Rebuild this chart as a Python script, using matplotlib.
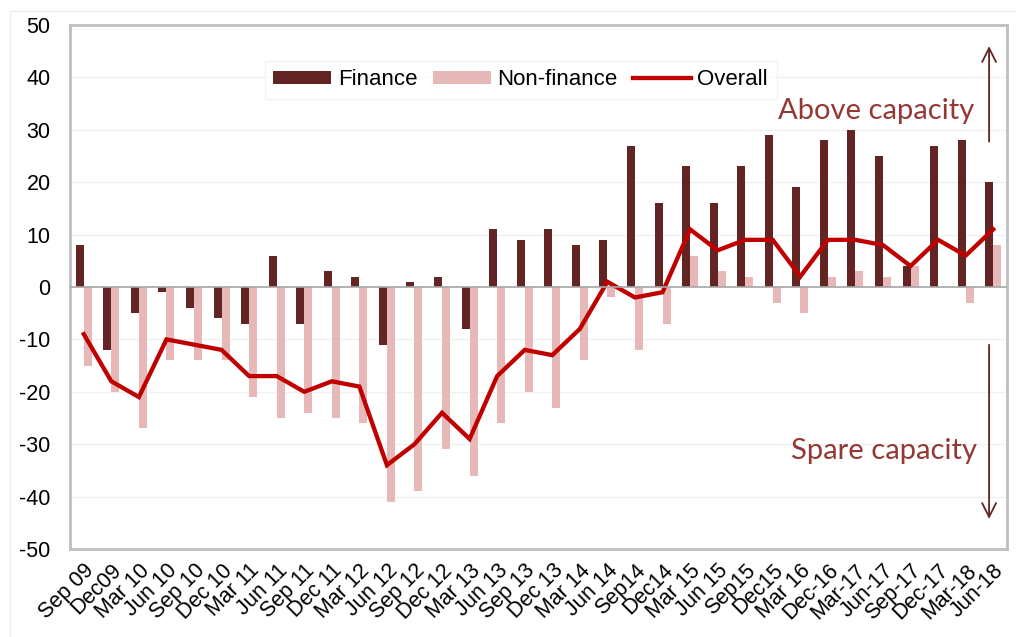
import matplotlib
matplotlib.use("Agg")
import matplotlib.pyplot as plt
import numpy as np
from matplotlib.patches import Rectangle

quarters = ["Sep 09", "Dec09", "Mar 10", "Jun 10", "Sep 10", "Dec 10", "Mar 11", "Jun 11",
            "Sep 11", "Dec 11", "Mar 12", "Jun 12", "Sep 12", "Dec 12", "Mar 13", "Jun 13",
            "Sep 13", "Dec 13", "Mar 14", "Jun 14", "Sep14", "Dec14", "Mar 15", "Jun 15",
            "Sep15", "Dec15", "Mar 16", "Dec-16", "Mar-17", "Jun-17", "Sep-17", "Dec-17",
            "Mar-18", "Jun-18"]
finance = [8, -12, -5, -1, -4, -6, -7, 6, -7, 3, 2, -11, 1, 2, -8, 11,
           9, 11, 8, 9, 27, 16, 23, 16, 23, 29, 19, 28, 30, 25, 4, 27, 28, 20]
non_finance = [-15, -20, -27, -14, -14, -14, -21, -25, -24, -25, -26, -41, -39, -31, -36, -26,
               -20, -23, -14, -2, -12, -7, 6, 3, 2, -3, -5, 2, 3, 2, 4, 0, -3, 8]
overall = [-9, -18, -21, -10, -11, -12, -17, -17, -20, -18, -19, -34, -30, -24, -29, -17,
           -12, -13, -8, 1, -2, -1, 11, 7, 9, 9, 2, 9, 9, 8, 4, 9, 6, 11]
yticks = list(range(-50, 51, 10))

plt.rcParams['font.family'] = ['Liberation Sans', 'DejaVu Sans']

W, H = 1016, 637
fig = plt.figure(figsize=(W / 100, H / 100), dpi=100)
L, R, T, B = 70, 1007, 25, 549
ax = fig.add_axes([L / W, 1 - B / H, (R - L) / W, (B - T) / H])

# faint outer chart border
fig.patches.append(Rectangle((10 / W, -0.1), 1.2, (1 - 11 / H) + 0.1, transform=fig.transFigure,
                             fill=False, edgecolor='#EBEBEB', linewidth=0.8, zorder=0))

x = np.arange(len(quarters))
bw = 0.29
b1 = ax.bar(x - bw / 2, finance, width=bw, color='#632523', label='Finance', zorder=3)
b2 = ax.bar(x + bw / 2, non_finance, width=bw, color='#E6B9B8', label='Non-finance', zorder=3)
l1, = ax.plot(x, overall, color='#C00000', linewidth=3.1, label='Overall', zorder=4,
              solid_joinstyle='miter')

ax.set_xlim(-0.5, len(quarters) - 0.5)
ax.set_ylim(-50, 50)
ax.set_yticks(yticks)
ax.set_yticklabels([str(v) for v in yticks], fontsize=15.5)
ax.tick_params(axis='y', length=0, pad=14)
for v in yticks:
    if -50 < v < 50 and v != 0:
        ax.axhline(v, color='#F0F0F0', linewidth=1, zorder=1)
ax.axhline(0, color='#A6A6A6', linewidth=1.2, zorder=5)

ax.set_xticks(x)
ax.set_xticklabels(quarters, rotation=45, ha='right', rotation_mode='anchor', fontsize=15.5)
ax.tick_params(axis='x', length=0, pad=8)

for s in ax.spines.values():
    s.set_color('#BFBFBF')
    s.set_linewidth(2)

leg = ax.legend([b1, b2, l1], ['Finance', 'Non-finance', 'Overall'],
                loc='upper center', bbox_to_anchor=(0.481, 0.932), ncol=3, fontsize=16,
                frameon=True, fancybox=False, edgecolor='#F0F0F0', handlelength=2.6,
                handleheight=0.5, columnspacing=0.7, handletextpad=0.3, borderpad=0.38,
                borderaxespad=0)
leg.get_frame().set_linewidth(1)

acol = '#953735'
ax.text(32.3, 33.6, 'Above capacity', ha='right', va='center', fontsize=21,
        color=acol, family=['Lato', 'DejaVu Sans'])
ax.text(32.4, -31.3, 'Spare capacity', ha='right', va='center', fontsize=21,
        color=acol, family=['Lato', 'DejaVu Sans'])
ax.annotate('', xy=(32.85, 46.5), xytext=(32.85, 27.2),
            arrowprops=dict(arrowstyle='->,head_length=1.0,head_width=0.5', color='#632523', lw=1.3))
ax.annotate('', xy=(32.85, -44.8), xytext=(32.85, -10.5),
            arrowprops=dict(arrowstyle='->,head_length=1.0,head_width=0.5', color='#632523', lw=1.3))

fig.savefig('out.png', dpi=100)
